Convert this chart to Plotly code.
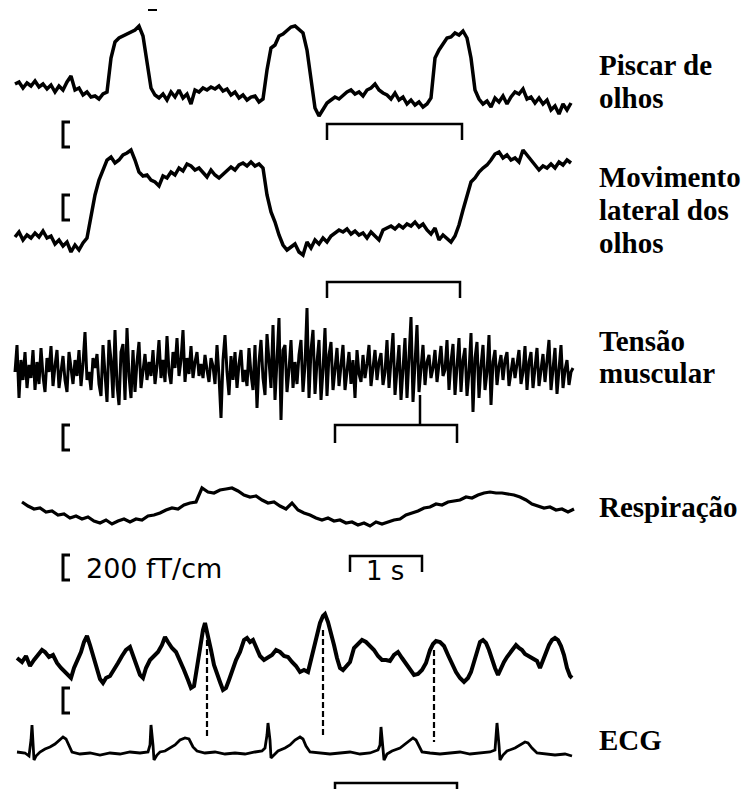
import plotly.graph_objects as go

# ---------------- data (in pixel units) ----------------
# Eye blink trace, samples every 4 px starting at t=15
blink_t0, blink_dt = 15, 4
blink = [84, 82, 88, 83, 86, 81, 87, 84, 89, 85,
         92, 86, 90, 82, 76, 90, 88, 95, 92, 97,
         96, 99, 94, 92, 58, 42, 38, 36, 34, 32,
         30, 26, 36, 62, 88, 95, 98, 94, 100, 92,
         97, 90, 98, 94, 104, 90, 92, 88, 90, 87,
         89, 86, 91, 89, 95, 92, 98, 95, 100, 97,
         96, 102, 99, 70, 48, 45, 36, 34, 30, 27,
         26, 29, 33, 50, 80, 108, 116, 110, 103, 100,
         97, 99, 95, 92, 90, 94, 92, 96, 90, 88,
         84, 90, 93, 95, 99, 93, 100, 97, 104, 100,
         105, 102, 107, 104, 98, 58, 50, 44, 38, 37,
         33, 35, 31, 38, 58, 90, 99, 104, 101, 107,
         98, 102, 96, 104, 97, 92, 94, 89, 99, 97,
         103, 98, 104, 100, 110, 106, 114, 104, 110, 103]

# Lateral eye movement trace, samples every 4 px starting at t=15
lateral_t0, lateral_dt = 15, 4
lateral = [237, 232, 240, 235, 238, 233, 237, 231, 238, 236,
           244, 240, 246, 242, 252, 245, 250, 243, 238, 215,
           195, 180, 170, 160, 157, 163, 160, 155, 153, 150,
           160, 172, 176, 175, 180, 182, 186, 176, 178, 172,
           175, 168, 171, 164, 166, 170, 168, 172, 177, 170,
           175, 178, 174, 170, 167, 170, 165, 163, 166, 162,
           166, 164, 168, 195, 212, 222, 235, 245, 250, 247,
           244, 252, 255, 242, 248, 240, 244, 238, 242, 236,
           233, 230, 232, 229, 234, 231, 235, 233, 238, 232,
           236, 240, 230, 228, 226, 229, 225, 228, 224, 226,
           222, 227, 224, 230, 234, 228, 240, 235, 238, 242,
           236, 225, 210, 195, 182, 178, 172, 168, 165, 160,
           154, 152, 158, 155, 160, 158, 162, 150, 155, 160,
           165, 170, 166, 168, 164, 168, 162, 165, 160, 163]

# Muscle tension (EMG) trace, samples every 2 px starting at t=15
emg_t0, emg_dt = 15, 2
emg = [372, 345, 398, 360, 380, 352, 388, 365, 378, 350, 390,
       362, 384, 348, 376, 392, 358, 372, 346, 386, 366,
       350, 388, 372, 356, 380, 392, 352, 370, 384, 360,
       376, 350, 386, 364, 332, 380, 372, 390, 358, 368,
       354, 384, 396, 345, 372, 402, 340, 360, 398, 330,
       385, 405, 352, 344, 400, 328, 376, 398, 350, 392,
       362, 342, 388, 370, 354, 380, 362, 376, 350, 384,
       366, 340, 378, 360, 382, 336, 372, 384, 352, 368,
       338, 376, 360, 330, 382, 358, 374, 346, 378, 362,
       352, 376, 364, 378, 355, 370, 382, 358, 366, 384,
       345, 376, 418, 360, 335, 372, 395, 356, 380, 352,
       388, 364, 350, 382, 370, 386, 348, 374, 390, 345,
       408, 362, 340, 378, 395, 334, 366, 388, 325, 400,
       360, 318, 420, 350, 345, 392, 370, 340, 388, 362,
       384, 355, 340, 392, 365, 308, 398, 350, 330, 394,
       362, 340, 400, 370, 328, 396, 355, 342, 390, 372,
       348, 386, 362, 345, 390, 370, 352, 384, 360, 398,
       350, 374, 382, 355, 378, 364, 345, 386, 368, 350,
       380, 362, 353, 385, 372, 340, 388, 360, 333, 395,
       366, 345, 400, 370, 338, 398, 356, 317, 402, 360,
       325, 392, 372, 345, 385, 362, 355, 378, 368, 350,
       382, 360, 346, 376, 370, 340, 390, 362, 344, 395,
       370, 338, 392, 360, 348, 396, 372, 333, 412, 358,
       342, 398, 366, 345, 390, 372, 335, 405, 362, 350,
       385, 366, 355, 380, 360, 352, 386, 370, 358, 378,
       364, 350, 384, 372, 346, 390, 362, 352, 388, 366,
       348, 386, 370, 354, 382, 362, 340, 390, 368, 348,
       394, 364, 345, 388, 370, 360, 385, 372, 368]

# Respiration trace, samples every 6 px starting at t=22
resp_t0, resp_dt = 22, 6
resp = [502, 506, 509, 508, 512, 511, 515, 514, 518, 516,
        519, 517, 521, 523, 520, 524, 521, 519, 522, 519,
        520, 516, 515, 513, 510, 508, 509, 505, 503, 502,
        488, 492, 493, 490, 489, 488, 491, 495, 497, 496,
        500, 503, 502, 506, 509, 503, 510, 513, 515, 518,
        520, 518, 521, 520, 523, 522, 525, 523, 526, 522,
        524, 522, 520, 519, 515, 513, 511, 508, 507, 504,
        505, 502, 501, 500, 497, 498, 495, 493, 492, 493,
        493, 494, 495, 497, 500, 504, 506, 508, 507, 510,
        509, 512, 509]

# Cardiac artefact (MEG channel), (t, value) samples
cardiac = [(17, 658), (22, 662), (26, 656), (30, 666), (34, 660), (38, 655), (42, 650), (45, 652),
           (49, 657), (53, 655), (57, 663), (61, 668), (65, 672), (68, 675), (71, 678), (74, 668),
           (78, 660), (81, 652), (84, 642), (87, 636), (90, 645), (93, 655), (96, 668), (100, 679),
           (103, 683), (106, 678), (110, 676), (114, 670), (118, 663), (122, 656), (126, 650),
           (130, 647), (133, 655), (136, 665), (140, 675), (143, 678), (146, 668), (150, 660),
           (154, 656), (158, 652), (162, 645), (165, 637), (168, 642), (172, 648), (176, 652),
           (180, 660), (184, 670), (188, 680), (191, 688), (194, 686), (197, 665), (200, 648),
           (203, 630), (205, 623), (208, 635), (211, 650), (214, 665), (217, 675), (220, 682),
           (223, 690), (226, 688), (229, 680), (232, 670), (236, 660), (240, 652), (244, 640),
           (247, 638), (250, 642), (253, 640), (256, 648), (260, 656), (264, 660), (268, 658),
           (272, 655), (276, 650), (280, 652), (284, 656), (288, 657), (292, 662), (296, 666),
           (300, 672), (304, 670), (308, 672), (311, 660), (314, 645), (317, 632), (320, 623),
           (323, 616), (325, 614), (328, 622), (331, 632), (334, 645), (337, 658), (340, 668),
           (343, 670), (346, 666), (350, 662), (354, 648), (358, 644), (362, 640), (366, 642),
           (370, 646), (374, 650), (378, 656), (382, 660), (386, 660), (390, 661), (394, 655),
           (398, 652), (402, 658), (406, 664), (410, 670), (414, 675), (418, 674), (422, 670),
           (426, 663), (430, 650), (433, 644), (436, 641), (440, 642), (444, 646), (448, 655),
           (452, 664), (456, 672), (460, 678), (464, 682), (468, 678), (471, 672), (474, 662),
           (477, 652), (480, 642), (483, 640), (486, 643), (489, 650), (492, 660), (495, 668),
           (498, 675), (501, 668), (504, 662), (507, 657), (510, 653), (513, 648), (516, 645),
           (519, 648), (522, 650), (525, 654), (528, 656), (531, 658), (534, 660), (537, 661),
           (540, 668), (543, 660), (546, 652), (549, 645), (552, 640), (555, 638), (558, 640),
           (561, 646), (564, 655), (567, 668), (570, 676), (572, 678)]

# ECG, (t, value) samples
ecg = [(17, 752), (25, 753), (29, 756), (31, 740), (32, 725), (33, 745), (34, 760), (36, 756),
       (40, 752), (45, 749), (50, 747), (55, 744), (60, 740), (63, 737), (66, 739), (69, 746),
       (72, 752), (80, 754), (90, 753), (100, 755), (110, 753), (120, 754), (130, 752), (140, 753),
       (148, 752), (150, 745), (151, 725), (153, 745), (154, 760), (157, 755), (160, 752),
       (165, 751), (170, 748), (175, 745), (180, 740), (185, 738), (189, 739), (193, 747),
       (197, 751), (205, 753), (215, 752), (225, 754), (235, 753), (245, 754), (255, 752),
       (262, 751), (265, 748), (267, 735), (268, 723), (270, 740), (271, 758), (274, 755),
       (278, 751), (285, 748), (290, 745), (295, 740), (300, 737), (303, 739), (306, 746),
       (310, 752), (320, 753), (330, 754), (340, 753), (350, 752), (360, 754), (370, 753),
       (378, 750), (380, 745), (381, 727), (383, 745), (384, 760), (387, 754), (392, 751),
       (400, 748), (405, 744), (410, 740), (413, 738), (416, 740), (419, 746), (422, 752),
       (430, 753), (440, 754), (450, 753), (460, 752), (470, 754), (480, 753), (490, 752),
       (495, 750), (496, 740), (497, 723), (499, 745), (500, 760), (503, 755), (507, 751),
       (515, 748), (520, 745), (525, 742), (528, 743), (532, 748), (537, 753), (545, 754),
       (555, 755), (565, 754), (572, 756)]

# Dashed markers linking the cardiac peaks to the ECG (t, top, bottom)
dashed_links = [(207, 640, 737), (323, 630, 735), (434, 650, 742)]

# Channel labels (lines of text)
label_lines = [["Piscar de", "olhos"],
               ["Movimento", "lateral dos", "olhos"],
               ["Tensão", "muscular"],
               ["Respiração"],
               ["ECG"]]
amp_scale_text = "200 fT/cm"
time_scale_text = "1 s"

# ---------------- figure ----------------
fig = go.Figure()


def line(xs, ys, w=3.0, dash=None):
    fig.add_trace(go.Scatter(x=list(xs), y=list(ys), mode="lines",
                             line=dict(color="black", width=w, dash=dash),
                             hoverinfo="skip", showlegend=False))


def series(t0, dt, vals):
    return [t0 + dt * i for i in range(len(vals))], vals


line(*series(blink_t0, blink_dt, blink), w=3.5)
line(*series(lateral_t0, lateral_dt, lateral), w=3.5)
line(*series(emg_t0, emg_dt, emg), w=3)
line(*series(resp_t0, resp_dt, resp), w=3.2)
line([p[0] for p in cardiac], [p[1] for p in cardiac], w=4)
line([p[0] for p in ecg], [p[1] for p in ecg], w=2.8)

for t, y0, y1 in dashed_links:
    line([t, t], [y0, y1], w=2.2, dash="6px,3px")

# amplitude scale brackets "["
for top in [122, 195, 425, 555, 688]:
    line([70, 63, 63, 70], [top, top, top + 25, top + 25], w=3)

# time bars (open brackets)
for xl, xr, yt, yb in [(327, 462, 124, 140), (327, 460, 282, 298), (335, 457, 425, 443),
                       (350, 422, 556, 572), (335, 457, 783, 795)]:
    line([xl, xl, xr, xr], [yb, yt, yt, yb], w=2.5)
line([420, 420], [395, 425], w=2.5)
line([148, 157], [10, 10], w=2)

# labels
label_baselines = [[75, 108], [187, 220, 253], [351, 383], [517], [750]]
for lines, bases in zip(label_lines, label_baselines):
    for txt, b in zip(lines, bases):
        fig.add_annotation(x=597, y=b - 10, text="<b>%s</b>" % txt, showarrow=False,
                           xanchor="left", yanchor="middle",
                           font=dict(family="Liberation Serif", size=29, color="black"))

fig.add_annotation(x=84, y=568, text=amp_scale_text, showarrow=False, xanchor="left",
                   yanchor="middle", font=dict(family="DejaVu Sans", size=27, color="black"))
fig.add_annotation(x=385, y=571, text=time_scale_text, showarrow=False, xanchor="center",
                   yanchor="middle", font=dict(family="DejaVu Sans", size=26, color="black"))

# the page body has an 8 px margin, so the axis ranges are offset to keep the
# picture's pixel coordinates aligned with the browser window
fig.update_layout(width=750, height=789, margin=dict(l=0, r=0, t=0, b=0),
                  paper_bgcolor="white", plot_bgcolor="white",
                  xaxis=dict(range=[8, 758], visible=False, fixedrange=True),
                  yaxis=dict(range=[797, 8], visible=False, fixedrange=True))

fig.write_html("out.html")
